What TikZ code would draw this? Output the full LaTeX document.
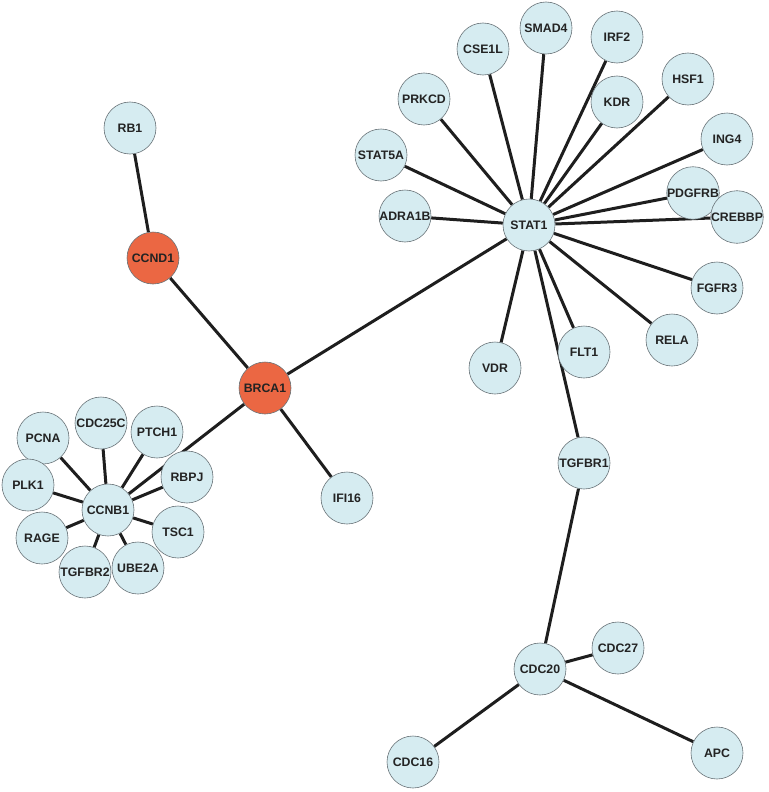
\documentclass[tikz,border=0pt]{standalone}
\usepackage{fontspec}
\setmainfont{Liberation Sans}
\usetikzlibrary{backgrounds}
\definecolor{genecolor}{RGB}{214,236,241}
\definecolor{seedcolor}{RGB}{235,103,67}
\definecolor{rimcolor}{RGB}{105,115,120}
\definecolor{linkcolor}{RGB}{30,30,30}
\definecolor{labelcolor}{RGB}{35,35,35}

\begin{document}
\begin{tikzpicture}[
    x=1pt, y=-1pt,
    gene/.style={circle, draw=rimcolor, line width=0.6pt, fill=genecolor, minimum size=52pt, inner sep=0pt, text=labelcolor, font=\bfseries\fontsize{12.3}{14}\selectfont},
    seed/.style={gene, fill=seedcolor},
    link/.style={draw=linkcolor, line width=3pt}
]
\useasboundingbox (0,0) rectangle (768,792);

% Seed genes
\node[seed] (ccnd1) at (153,258) {CCND1};
\node[seed] (brca1) at (265,388) {BRCA1};
\node[gene] (rb1) at (130,128) {RB1};
\node[gene] (ifi16) at (347,498) {IFI16};

% CCNB1 cluster
\node[gene] (ccnb1) at (108,510) {CCNB1};
\node[gene] (cdc25c) at (101,423) {CDC25C};
\node[gene] (pcna) at (43,438) {PCNA};
\node[gene] (ptch1) at (157,432) {PTCH1};
\node[gene] (rbpj) at (187,477) {RBPJ};
\node[gene] (plk1) at (28,485) {PLK1};
\node[gene] (tsc1) at (178,532) {TSC1};
\node[gene] (rage) at (42,538) {RAGE};
\node[gene] (tgfbr2) at (85,572) {TGFBR2};
\node[gene] (ube2a) at (138,568) {UBE2A};

% STAT1 cluster
\node[gene] (stat1) at (529,225) {STAT1};
\node[gene] (adra1b) at (405,216) {ADRA1B};
\node[gene] (stat5a) at (381,155) {STAT5A};
\node[gene] (prkcd) at (424,99) {PRKCD};
\node[gene] (cse1l) at (483,49) {CSE1L};
\node[gene] (smad4) at (546,28) {SMAD4};
\node[gene] (irf2) at (617,37) {IRF2};
\node[gene] (kdr) at (617,102) {KDR};
\node[gene] (hsf1) at (688,79) {HSF1};
\node[gene] (ing4) at (727,139) {ING4};
\node[gene] (pdgfrb) at (693,193) {PDGFRB};
\node[gene] (crebbp) at (737,217) {CREBBP};
\node[gene] (fgfr3) at (717,288) {FGFR3};
\node[gene] (rela) at (672,340) {RELA};
\node[gene] (flt1) at (584,352) {FLT1};
\node[gene] (vdr) at (495,368) {VDR};
\node[gene] (tgfbr1) at (584,463) {TGFBR1};

% CDC20 cluster
\node[gene] (cdc20) at (540,669) {CDC20};
\node[gene] (cdc27) at (618,648) {CDC27};
\node[gene] (cdc16) at (413,762) {CDC16};
\node[gene] (apc) at (717,753) {APC};

\begin{scope}[on background layer]
    % Links between seeds
    \draw[link] (rb1) -- (ccnd1);
    \draw[link] (ccnd1) -- (brca1);
    \draw[link] (brca1) -- (stat1);
    \draw[link] (brca1) -- (ccnb1);
    \draw[link] (brca1) -- (ifi16);

    % CCNB1 links
    \draw[link] (ccnb1) -- (cdc25c);
    \draw[link] (ccnb1) -- (pcna);
    \draw[link] (ccnb1) -- (ptch1);
    \draw[link] (ccnb1) -- (rbpj);
    \draw[link] (ccnb1) -- (plk1);
    \draw[link] (ccnb1) -- (tsc1);
    \draw[link] (ccnb1) -- (rage);
    \draw[link] (ccnb1) -- (tgfbr2);
    \draw[link] (ccnb1) -- (ube2a);

    % STAT1 links
    \draw[link] (stat1) -- (adra1b);
    \draw[link] (stat1) -- (stat5a);
    \draw[link] (stat1) -- (prkcd);
    \draw[link] (stat1) -- (cse1l);
    \draw[link] (stat1) -- (smad4);
    \draw[link] (stat1) -- (irf2);
    \draw[link] (stat1) -- (kdr);
    \draw[link] (stat1) -- (hsf1);
    \draw[link] (stat1) -- (ing4);
    \draw[link] (stat1) -- (pdgfrb);
    \draw[link] (stat1) -- (crebbp);
    \draw[link] (stat1) -- (fgfr3);
    \draw[link] (stat1) -- (rela);
    \draw[link] (stat1) -- (flt1);
    \draw[link] (stat1) -- (vdr);
    \draw[link] (stat1) -- (tgfbr1);

    % CDC20 links
    \draw[link] (tgfbr1) -- (cdc20);
    \draw[link] (cdc20) -- (cdc27);
    \draw[link] (cdc20) -- (cdc16);
    \draw[link] (cdc20) -- (apc);
\end{scope}

\end{tikzpicture}
\end{document}
